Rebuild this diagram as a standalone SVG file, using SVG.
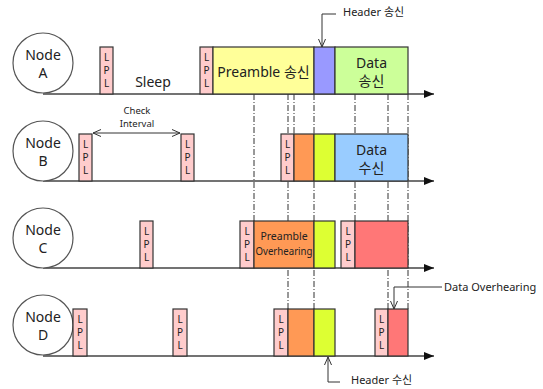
<svg xmlns="http://www.w3.org/2000/svg" width="543" height="389" viewBox="0 0 543 389">
<style>
text{font-family:"Noto Sans","Noto Sans CJK KR",sans-serif;fill:#222}
.node circle{fill:#fff;stroke:#555;stroke-width:1.2}
.nt{font-size:14px;text-anchor:middle}
.box{stroke:#333;stroke-width:1.2}
.lpl{fill:#FFCCCC}
.lt{font-size:10px;text-anchor:middle}
.axis{stroke:#444;stroke-width:1.5;fill:none}
.dash{stroke:#333;stroke-width:1;stroke-dasharray:6 2 1 2;fill:none}
.call{stroke:#333;stroke-width:1;fill:none}
.ct{font-size:11px}
</style>
<defs>
<marker id="ah" viewBox="0 0 10 8" refX="10" refY="4" markerWidth="10" markerHeight="8" markerUnits="userSpaceOnUse" orient="auto"><path d="M0,0 L10,4 L0,8 z" fill="#111"/></marker>
<marker id="ov" viewBox="0 0 8 8" refX="8" refY="4" markerWidth="8" markerHeight="8" markerUnits="userSpaceOnUse" orient="auto-start-reverse"><path d="M0,0.5 L8,4 L0,7.5" fill="none" stroke="#333" stroke-width="1"/></marker>
</defs>
<g id="connectors">
<path class="dash" d="M254,94V221 M288,94V309 M294,94V134 M314,94V309 M355,94V221 M388,94V309 M408,94V309"/>
<path class="axis" d="M43,94H434" marker-end="url(#ah)"/>
<path class="axis" d="M43,181H434" marker-end="url(#ah)"/>
<path class="axis" d="M43,268H434" marker-end="url(#ah)"/>
<path class="axis" d="M43,356H434" marker-end="url(#ah)"/>
<path class="call" d="M93,133H180" marker-start="url(#ov)" marker-end="url(#ov)"/>
<path class="call" d="M336,14H322V47" marker-end="url(#ov)"/>
<path class="call" d="M442,287H394V309" marker-end="url(#ov)"/>
<path class="call" d="M340,382H328V357" marker-end="url(#ov)"/>
</g>
<g id="nodeA" class="node"><circle cx="43" cy="63" r="30"/><text class="nt" x="43" y="60">Node</text><text class="nt" x="43" y="78">A</text></g>
<g id="nodeB" class="node"><circle cx="43" cy="151" r="30"/><text class="nt" x="43" y="148">Node</text><text class="nt" x="43" y="166">B</text></g>
<g id="nodeC" class="node"><circle cx="43" cy="238" r="30"/><text class="nt" x="43" y="235">Node</text><text class="nt" x="43" y="253">C</text></g>
<g id="nodeD" class="node"><circle cx="43" cy="325" r="30"/><text class="nt" x="43" y="322">Node</text><text class="nt" x="43" y="340">D</text></g>
<g id="rowA">
<rect class="box lpl" x="100" y="47" width="13" height="47"/>
<text class="lt" x="106.5" y="61">L</text><text class="lt" x="106.5" y="74">P</text><text class="lt" x="106.5" y="87">L</text>
<text class="nt" x="153" y="87">Sleep</text>
<rect class="box lpl" x="200" y="47" width="13" height="47"/>
<text class="lt" x="206.5" y="61">L</text><text class="lt" x="206.5" y="74">P</text><text class="lt" x="206.5" y="87">L</text>
<rect class="box" x="213" y="47" width="101" height="47" fill="#FFFF99"/>
<text class="nt" x="263.5" y="77">Preamble 송신</text>
<rect class="box" x="314" y="47" width="21" height="47" fill="#9999FF"/>
<rect class="box" x="335" y="47" width="73" height="47" fill="#CCFF99"/>
<text class="nt" x="371.5" y="68">Data</text><text class="nt" x="371.5" y="86">송신</text>
<text class="ct" x="343" y="16">Header 송신</text>
</g>
<g id="rowB">
<rect class="box lpl" x="79" y="134" width="13" height="47"/>
<text class="lt" x="85.5" y="148">L</text><text class="lt" x="85.5" y="161">P</text><text class="lt" x="85.5" y="174">L</text>
<text x="137" y="114" font-size="9.5" text-anchor="middle">Check</text><text x="137" y="127" font-size="9.5" text-anchor="middle">Interval</text>
<rect class="box lpl" x="181" y="134" width="13" height="47"/>
<text class="lt" x="187.5" y="148">L</text><text class="lt" x="187.5" y="161">P</text><text class="lt" x="187.5" y="174">L</text>
<rect class="box lpl" x="281" y="134" width="13" height="47"/>
<text class="lt" x="287.5" y="148">L</text><text class="lt" x="287.5" y="161">P</text><text class="lt" x="287.5" y="174">L</text>
<rect class="box" x="294" y="134" width="20" height="47" fill="#FF9955"/>
<rect class="box" x="314" y="134" width="21" height="47" fill="#DDFF33"/>
<rect class="box" x="335" y="134" width="73" height="47" fill="#99CCFF"/>
<text class="nt" x="371.5" y="155">Data</text><text class="nt" x="371.5" y="173">수신</text>
</g>
<g id="rowC">
<rect class="box lpl" x="140" y="221" width="13" height="47"/>
<text class="lt" x="146.5" y="235">L</text><text class="lt" x="146.5" y="248">P</text><text class="lt" x="146.5" y="261">L</text>
<rect class="box lpl" x="240" y="221" width="14" height="47"/>
<text class="lt" x="247" y="235">L</text><text class="lt" x="247" y="248">P</text><text class="lt" x="247" y="261">L</text>
<rect class="box" x="254" y="221" width="60" height="47" fill="#FF9955"/>
<text x="284" y="240" font-size="10.5" text-anchor="middle">Preamble</text>
<text x="284" y="254.5" font-size="10.5" text-anchor="middle" textLength="57" lengthAdjust="spacingAndGlyphs">Overhearing</text>
<rect class="box" x="314" y="221" width="21" height="47" fill="#DDFF33"/>
<rect class="box lpl" x="341" y="221" width="14" height="47"/>
<text class="lt" x="348" y="235">L</text><text class="lt" x="348" y="248">P</text><text class="lt" x="348" y="261">L</text>
<rect class="box" x="355" y="221" width="53" height="47" fill="#FF7777"/>
</g>
<g id="rowD">
<rect class="box lpl" x="73" y="309" width="14" height="47"/>
<text class="lt" x="80" y="323">L</text><text class="lt" x="80" y="336">P</text><text class="lt" x="80" y="349">L</text>
<rect class="box lpl" x="173" y="309" width="14" height="47"/>
<text class="lt" x="180" y="323">L</text><text class="lt" x="180" y="336">P</text><text class="lt" x="180" y="349">L</text>
<rect class="box lpl" x="274" y="309" width="14" height="47"/>
<text class="lt" x="281" y="323">L</text><text class="lt" x="281" y="336">P</text><text class="lt" x="281" y="349">L</text>
<rect class="box" x="288" y="309" width="26" height="47" fill="#FF9955"/>
<rect class="box" x="314" y="309" width="21" height="47" fill="#DDFF33"/>
<rect class="box lpl" x="375" y="309" width="13" height="47"/>
<text class="lt" x="381.5" y="323">L</text><text class="lt" x="381.5" y="336">P</text><text class="lt" x="381.5" y="349">L</text>
<rect class="box" x="388" y="309" width="20" height="47" fill="#FF7777"/>
<text class="ct" x="444" y="291">Data Overhearing</text>
<text class="ct" x="351" y="384">Header 수신</text>
</g>
</svg>
